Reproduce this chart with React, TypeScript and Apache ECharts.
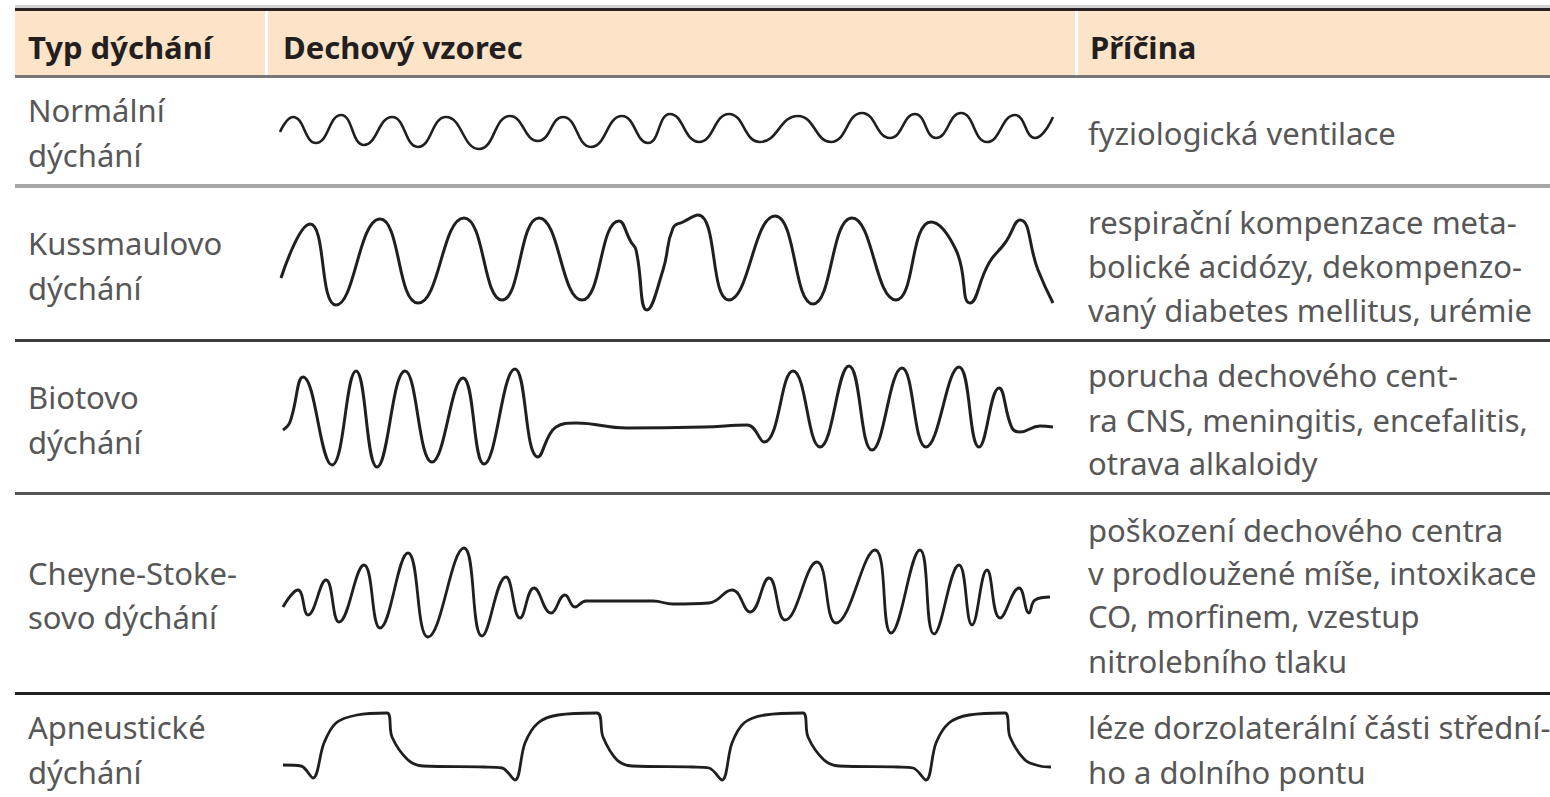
import React, { useEffect, useRef } from "react";
import * as echarts from "echarts";

// ---- texts ----
const headers = ["Typ dýchání", "Dechový vzorec", "Příčina"];
const breathingTypes: string[][] = [
  ["Normální", "dýchání"],
  ["Kussmaulovo", "dýchání"],
  ["Biotovo", "dýchání"],
  ["Cheyne-Stoke-", "sovo dýchání"],
  ["Apneustické", "dýchání"],
];
const causes: string[][] = [
  ["fyziologická ventilace"],
  ["respirační kompenzace meta-", "bolické acidózy, dekompenzo-", "vaný diabetes mellitus, urémie"],
  ["porucha dechového cent-", "ra CNS, meningitis, encefalitis,", "otrava alkaloidy"],
  ["poškození dechového centra", "v prodloužené míše, intoxikace", "CO, morfinem, vzestup", "nitrolebního tlaku"],
  ["léze dorzolaterální části střední-", "ho a dolního pontu"],
];

// ---- waveforms: [time, amplitude] ----
const normalWave: number[][] = [
  [10, -2], [23, 13], [46, -13], [71, 15], [94, -15], [122, 13], [148, -17], [176, 13],
  [209, -19], [240, 14], [268, -11], [293, 13], [321, -17], [352, 14], [378, -13], [400, 16],
  [429, -12], [459, 16], [490, -12], [528, 14], [561, -12], [592, 17], [620, -8], [645, 16],
  [666, -8], [691, 17], [717, -12], [745, 15], [765, -8], [783, 13],
];
const kussmaulWave: number[][] = [
  [11, -16], [40, 38], [66, -43], [110, 43], [148, -41], [194, 44], [232, -38], [269, 44],
  [312, -38], [349, 41], [361, 20], [366, 12], [377, -48], [393, -8], [403, 34], [413, 40],
  [428, 47], [459, -38], [505, 46], [543, -42], [582, 44], [626, -38], [661, 40], [686, 12],
  [700, -41], [719, -1], [735, 19], [750, 42], [768, -8], [783, -41],
];
const biotWave: number[][] = [
  [13, -12], [20, -4], [33, 41], [62, -47], [86, 47], [107, -49], [135, 47], [162, -44],
  [193, 40], [214, -46], [245, 49], [268, -39], [286, -9], [306, -5], [357, -10], [434, -9],
  [477, -7], [494, -24], [523, 47], [550, -29], [579, 52], [602, -32], [632, 50], [656, -29],
  [689, 51], [709, -29], [729, 30], [742, -10], [750, -14], [770, -8], [783, -9],
];
const cheyneStokesWave: number[][] = [
  [13, -14], [28, 3], [38, -22], [56, 13], [69, -29], [94, 28], [110, -35], [138, 40],
  [158, -44], [194, 45], [212, -43], [236, 16], [250, -25], [264, 5], [281, -20], [295, -2],
  [305, -14], [316, -8], [383, -8], [403, -11], [439, -10], [462, 3], [480, -19], [499, 15],
  [515, -27], [547, 31], [566, -30], [605, 43], [621, -40], [650, 43], [664, -41], [689, 28],
  [702, -32], [717, 23], [730, -25], [749, 5], [759, -20], [765, -7], [780, -4],
];
const apneusticWave: number[][] = [
  [13, -20], [31, -21], [43, -33], [54, 2], [66, 22], [87, 30], [117, 32], [122, 8],
  [138, -15], [153, -21], [214, -22], [232, -23], [245, -35], [255, 2], [268, 22], [288, 30],
  [327, 32], [333, 8], [347, -15], [362, -21], [423, -22], [439, -23], [452, -35], [462, 2],
  [474, 22], [495, 30], [533, 32], [538, 8], [554, -15], [569, -21], [628, -22], [643, -23],
  [656, -35], [666, 2], [679, 22], [699, 30], [735, 32], [740, 8], [755, -15], [770, -21],
  [781, -22],
];

const waves = [normalWave, kussmaulWave, biotWave, cheyneStokesWave, apneusticWave];

export default function App() {
  const ref = useRef<HTMLDivElement>(null);

  useEffect(() => {
    if (!ref.current) return;
    const chart = echarts.init(ref.current, undefined, { renderer: "svg" });

    // layout (pixels)
    const gridTops = [90, 200, 350, 530, 700];
    const gridHeights = [80, 124, 136, 126, 90];
    const smoothness = [0.5, 0.5, 0.45, 0.45, 0.35];
    const lineWidths = [2.6, 3, 3, 2.8, 2.8];
    const leftLineY = [[110, 155], [243, 288], [397, 442], [573, 617], [727, 772]];
    const rightLineY = [[133], [222, 266, 310], [375, 420, 463], [530, 573, 616, 661], [727, 772]];
    const headerX = [28, 283, 1090];
    const fontFamily = "'Noto Sans', 'Open Sans', sans-serif";

    const grids = waves.map((_, i) => ({
      left: 270,
      width: 800,
      top: gridTops[i],
      height: gridHeights[i],
      outerBoundsMode: "none",
      containLabel: false,
    }));
    const xAxes = waves.map((_, i) => ({
      type: "value",
      gridIndex: i,
      min: 0,
      max: 800,
      show: false,
    }));
    const yAxes = waves.map((_, i) => ({
      type: "value",
      gridIndex: i,
      min: -gridHeights[i] / 2,
      max: gridHeights[i] / 2,
      show: false,
    }));
    const series = waves.map((w, i) => ({
      type: "line",
      xAxisIndex: i,
      yAxisIndex: i,
      data: w,
      smooth: smoothness[i],
      showSymbol: false,
      clip: false,
      lineStyle: { color: "#1f1f1f", width: lineWidths[i] },
      silent: true,
    }));

    const graphics: any[] = [];
    // top rules
    graphics.push({ type: "rect", shape: { x: 15, y: 5, width: 1535, height: 3 }, style: { fill: "#d2d2d2" } });
    graphics.push({ type: "rect", shape: { x: 15, y: 8, width: 1535, height: 3 }, style: { fill: "#2a2222" } });
    // header background
    graphics.push({ type: "rect", shape: { x: 15, y: 11, width: 1535, height: 64 }, style: { fill: "#fde4c9" } });
    graphics.push({ type: "rect", shape: { x: 265, y: 11, width: 3, height: 64 }, style: { fill: "#ffffff" } });
    graphics.push({ type: "rect", shape: { x: 1075, y: 11, width: 3, height: 64 }, style: { fill: "#ffffff" } });
    graphics.push({ type: "rect", shape: { x: 15, y: 75, width: 1535, height: 3 }, style: { fill: "#777777" } });
    // row separators
    const sepY = [184, 339, 492, 692];
    const sepH = [4, 3, 3, 3];
    const sepC = ["#a6a6a6", "#3c3c3c", "#555555", "#222222"];
    sepY.forEach((y, i) =>
      graphics.push({ type: "rect", shape: { x: 15, y, width: 1535, height: sepH[i] }, style: { fill: sepC[i] } })
    );
    // header texts
    headers.forEach((h, i) =>
      graphics.push({
        type: "text",
        x: headerX[i],
        y: 47,
        style: {
          text: h,
          fill: "#231f20",
          font: `bold 31px ${fontFamily}`,
          textVerticalAlign: "middle",
          textAlign: "left",
        },
      })
    );
    // left & right columns
    breathingTypes.forEach((lines, r) =>
      lines.forEach((t, k) =>
        graphics.push({
          type: "text",
          x: 28,
          y: leftLineY[r][k],
          style: { text: t, fill: "#575757", font: `31px ${fontFamily}`, textVerticalAlign: "middle" },
        })
      )
    );
    causes.forEach((lines, r) =>
      lines.forEach((t, k) =>
        graphics.push({
          type: "text",
          x: 1088,
          y: rightLineY[r][k],
          style: { text: t, fill: "#575757", font: `31px ${fontFamily}`, textVerticalAlign: "middle" },
        })
      )
    );

    chart.setOption({
      animation: false,
      backgroundColor: "#ffffff",
      grid: grids,
      xAxis: xAxes,
      yAxis: yAxes,
      series,
      graphic: { elements: graphics },
    } as any);

    return () => chart.dispose();
  }, []);

  return (
    <div
      ref={ref}
      style={{ position: "fixed", left: 0, top: 0, width: 1550, height: 797, background: "#fff" }}
    />
  );
}
